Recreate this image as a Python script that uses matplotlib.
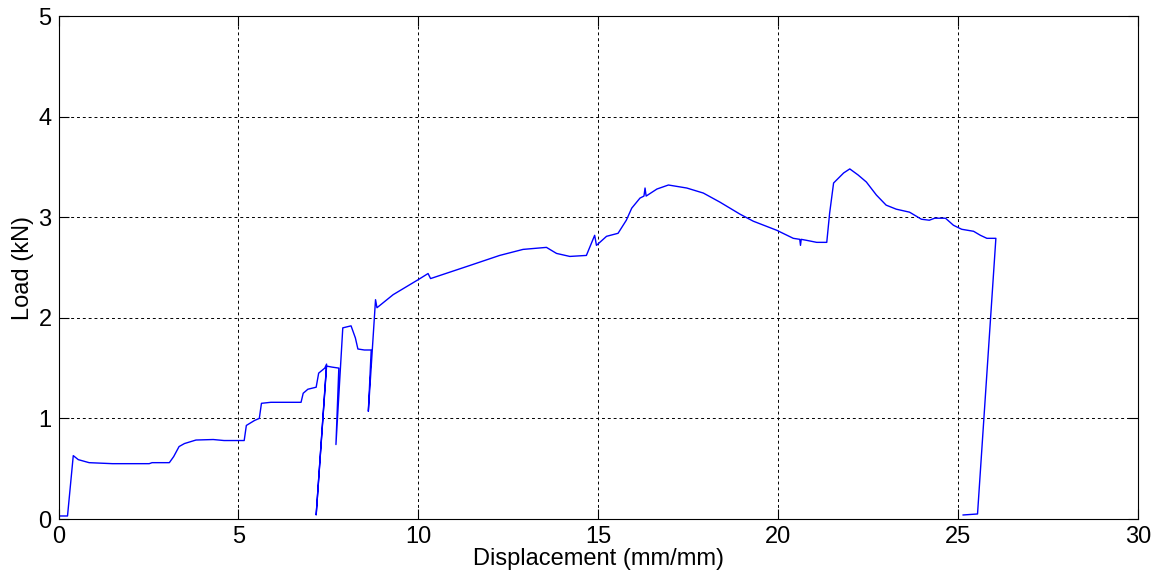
import matplotlib
matplotlib.use("Agg")
import matplotlib.pyplot as plt

plt.rcParams['font.family'] = ['Liberation Sans', 'DejaVu Sans']

# load-displacement trace (unload/reload loops kept in recording order)
disp = [0.0, 0.25, 0.41, 0.55, 0.85, 1.5, 2.52, 2.6, 3.08, 3.2, 3.35, 3.5, 3.82,
        4.3, 4.6, 5.16, 5.22, 5.45, 5.58, 5.64, 5.9, 6.5, 6.74, 6.8, 6.93, 7.16,
        7.23, 7.4, 7.45, 7.16, 7.45, 7.6, 7.79, 7.71, 7.9, 8.13, 8.25, 8.32, 8.5,
        8.69, 8.61, 8.81, 8.85, 9.3, 10.0, 10.27, 10.34, 11.43, 12.26, 12.91,
        13.56, 13.84, 14.21, 14.67, 14.9, 14.95, 15.23, 15.55, 15.78, 15.93,
        16.16, 16.27, 16.3, 16.33, 16.63, 16.95, 17.46, 17.92, 18.38, 18.94,
        19.31, 19.96, 20.42, 20.6, 20.62, 20.64, 20.79, 21.07, 21.35, 21.43,
        21.54, 21.82, 21.99, 22.22, 22.45, 22.73, 23.0, 23.28, 23.65, 23.98,
        24.2, 24.35, 24.65, 24.87, 25.1, 25.43, 25.62, 25.8, 26.05, 25.54, 25.14]
load = [0.03, 0.03, 0.63, 0.59, 0.56, 0.55, 0.55, 0.56, 0.56, 0.62, 0.72, 0.75,
        0.785, 0.79, 0.78, 0.78, 0.93, 0.98, 1.0, 1.15, 1.16, 1.16, 1.16, 1.25,
        1.29, 1.31, 1.45, 1.50, 1.54, 0.04, 1.52, 1.51, 1.50, 0.74, 1.90, 1.92,
        1.80, 1.69, 1.68, 1.68, 1.07, 2.18, 2.10, 2.23, 2.38, 2.44, 2.39, 2.52,
        2.62, 2.68, 2.70, 2.64, 2.61, 2.62, 2.82, 2.72, 2.81, 2.84, 2.97, 3.09,
        3.19, 3.21, 3.29, 3.21, 3.28, 3.32, 3.29, 3.24, 3.15, 3.03, 2.96, 2.87,
        2.79, 2.78, 2.72, 2.78, 2.77, 2.75, 2.75, 3.04, 3.34, 3.44, 3.48, 3.42,
        3.35, 3.22, 3.12, 3.08, 3.05, 2.98, 2.97, 2.99, 2.99, 2.92, 2.88, 2.86,
        2.82, 2.79, 2.79, 0.05, 0.04]

x_ticks = [0, 5, 10, 15, 20, 25, 30]
y_ticks = [0, 1, 2, 3, 4, 5]

fig = plt.figure(figsize=(11.61, 5.84), dpi=100)
ax = fig.add_axes([0.0504, 0.1113, 0.9298, 0.8613])

ax.plot(disp, load, color='#0000ff', linewidth=1.0)

ax.set_xlim(0, 30)
ax.set_ylim(0, 5)
ax.set_xticks(x_ticks)
ax.set_yticks(y_ticks)
ax.grid(True, color='black', linestyle=(0, (3, 3)), linewidth=0.7)
ax.tick_params(direction='in', length=7, width=0.8, top=True, right=True,
               labelsize=17, pad=5, colors='black')
for s in ax.spines.values():
    s.set_linewidth(0.8)

ax.set_xlabel('Displacement (mm/mm)', fontsize=17, labelpad=0)
ax.set_ylabel('Load (kN)', fontsize=17, labelpad=3)

fig.savefig('out.png', dpi=100)
